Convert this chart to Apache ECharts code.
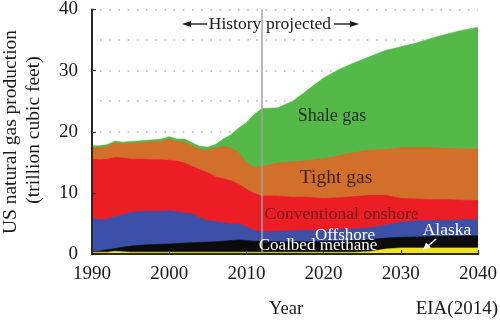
<!DOCTYPE html>
<html>
<head>
<meta charset="utf-8">
<script src="https://cdn.jsdelivr.net/npm/echarts@6/dist/echarts.min.js"></script>
<style>
  html, body { margin: 0; padding: 0; background: #fff; }
  #chart { width: 500px; height: 321px; }
</style>
</head>
<body>
<div id="chart"></div>
<script>
// US natural gas production by source, trillion cubic feet (history to 2012, projection after)
const years = [1990, 1991, 1992, 1993, 1994, 1995, 1996, 1997, 1998, 1999, 2000, 2001,
  2002, 2003, 2004, 2005, 2006, 2007, 2008, 2009, 2010, 2011, 2012,
  2014, 2016, 2018, 2020, 2022, 2024, 2026, 2028, 2030, 2032, 2034, 2036, 2038, 2040];

const alaska = [0.3, 0.3, 0.3, 0.45, 0.35, 0.3, 0.3, 0.3, 0.3, 0.3, 0.3, 0.3,
  0.3, 0.3, 0.3, 0.3, 0.3, 0.3, 0.3, 0.3, 0.3, 0.3, 0.3,
  0.3, 0.3, 0.3, 0.3, 0.3, 0.3, 0.4, 0.8, 1.0, 1.0, 1.0, 1.0, 1.0, 1.0];

const coalbedMethane = [0.1, 0.2, 0.4, 0.45, 0.75, 1.0, 1.1, 1.2, 1.25, 1.3, 1.35, 1.4,
  1.5, 1.55, 1.6, 1.65, 1.7, 1.8, 1.9, 2.0, 1.9, 1.8, 1.8,
  1.7, 1.7, 1.7, 1.8, 1.8, 1.9, 1.95, 1.8, 1.75, 1.8, 1.85, 1.9, 1.95, 2.0];

const offshore = [5.5, 5.1, 5.0, 5.2, 5.3, 5.5, 5.5, 5.5, 5.45, 5.4, 5.45, 5.2,
  4.9, 4.75, 4.0, 3.55, 3.3, 3.0, 2.7, 2.6, 2.3, 1.8, 1.5,
  1.7, 1.8, 1.9, 1.8, 1.9, 1.9, 1.95, 2.1, 2.45, 2.6, 2.65, 2.6, 2.65, 2.6];

const conventionalOnshore = [9.6, 9.8, 9.8, 9.7, 9.3, 8.7, 8.6, 8.5, 8.4, 8.4, 8.25, 8.3,
  8.2, 7.7, 7.9, 7.8, 7.3, 7.2, 7.1, 6.5, 6.1, 6.0, 5.9,
  5.8, 5.5, 5.4, 5.2, 5.2, 5.3, 5.3, 4.9, 3.9, 3.6, 3.4, 3.4, 3.2, 3.15];

const tightGas = [1.9, 2.0, 2.1, 2.4, 2.3, 2.6, 2.7, 2.8, 3.0, 3.0, 3.45, 3.2,
  3.4, 3.4, 3.3, 3.7, 4.7, 5.3, 5.4, 5.2, 4.4, 4.3, 4.8,
  5.4, 5.8, 6.0, 6.5, 6.9, 7.2, 7.4, 7.5, 8.3, 8.4, 8.5, 8.4, 8.4, 8.45];

const shaleGas = [0.3, 0.3, 0.3, 0.3, 0.3, 0.3, 0.3, 0.3, 0.3, 0.4, 0.4, 0.4,
  0.5, 0.5, 0.5, 0.5, 0.6, 1.2, 2.1, 4.0, 6.5, 8.6, 9.5,
  9.0, 9.9, 11.6, 13.2, 14.1, 14.7, 15.3, 16.2, 16.5, 17.1, 17.9, 18.7, 19.4, 19.9];

const lastHistoryYear = 2012;
const xTicks = { min: 1990, max: 2040, step: 10 };
const yTicks = { min: 0, max: 40, step: 10, gridStep: 5 };

const SERIF = "'Liberation Serif', 'Times New Roman', serif";

// Sources from the bottom of the pile to the top
const sources = [
  { name: 'Alaska', values: alaska, color: '#f2e41c' },
  { name: 'Coalbed methane', values: coalbedMethane, color: '#0b0b0b' },
  { name: 'Offshore', values: offshore, color: '#3d50a8' },
  { name: 'Conventional onshore', values: conventionalOnshore, color: '#ec1d25' },
  { name: 'Tight gas', values: tightGas, color: '#d26f2b' },
  { name: 'Shale gas', values: shaleGas, color: '#55b94a' }
];

// Running totals: each band is filled from its upper edge down to zero,
// and the bands are painted from the top of the pile downward.
const running = years.map(() => 0);
const bandSeries = sources.map(src => {
  const upper = src.values.map((v, i) => (running[i] = +(running[i] + v).toFixed(3)));
  return {
    name: src.name,
    type: 'line',
    data: years.map((y, i) => [y, upper[i]]),
    showSymbol: false,
    symbol: 'none',
    lineStyle: { width: 0.6, color: src.color },
    areaStyle: { color: src.color, opacity: 1, origin: 'start' },
    itemStyle: { color: src.color },
    emphasis: { disabled: true },
    silent: true
  };
}).reverse();

// grey divider between history and projection, above every band
bandSeries[bandSeries.length - 1].markLine = {
  silent: true, symbol: ['none', 'none'],
  label: { show: false },
  lineStyle: { color: '#a2a2a2', width: 1.5, type: 'solid' },
  data: [{ xAxis: lastHistoryYear }]
};

function label(text, x, y, size, fill, align) {
  return {
    type: 'text', x: x, y: y, z: 100, silent: true,
    style: {
      text: text, font: size + 'px ' + SERIF, fill: fill,
      align: align || 'center', textAlign: align || 'center',
      verticalAlign: 'middle', textVerticalAlign: 'middle'
    }
  };
}

function vlabel(text, x, y, size) {
  const t = label(text, x, y, size, '#1a1a1a');
  t.rotation = Math.PI / 2;
  return t;
}

const chart = echarts.init(document.getElementById('chart'), null, { renderer: 'canvas' });

chart.setOption({
  animation: false,
  backgroundColor: '#ffffff',
  grid: { left: 92, right: 21, top: 9, bottom: 67, containLabel: false },
  xAxis: {
    type: 'value', min: xTicks.min, max: xTicks.max, interval: xTicks.step, z: 5,
    axisLine: { show: true, lineStyle: { color: '#2a2a2a', width: 2 } },
    axisTick: { show: true, inside: true, length: 4, lineStyle: { color: '#2a2a2a', width: 1.2 } },
    axisLabel: { color: '#1a1a1a', fontFamily: SERIF, fontSize: 19, margin: 11, formatter: v => String(v) },
    splitLine: { show: false }
  },
  yAxis: [
    {
      type: 'value', min: yTicks.min, max: yTicks.max, interval: yTicks.step, z: 5,
      axisLine: { show: true, lineStyle: { color: '#2a2a2a', width: 2 } },
      axisTick: { show: true, inside: true, length: 4, lineStyle: { color: '#2a2a2a', width: 1.2 } },
      axisLabel: { color: '#1a1a1a', fontFamily: SERIF, fontSize: 19, margin: 14 },
      splitLine: { show: false }
    },
    {
      type: 'value', min: yTicks.min, max: yTicks.max, interval: yTicks.gridStep,
      axisLine: { show: false }, axisTick: { show: false }, axisLabel: { show: false },
      splitLine: { show: true, lineStyle: { color: '#b8b8b8', width: 1.6, type: [1.6, 7.6], dashOffset: -8 } }
    }
  ],
  series: bandSeries,
  graphic: [
    // y axis title (two lines, rotated)
    vlabel('US natural gas production', 11, 132, 19.5),
    vlabel('(trillion cubic feet)', 34, 130, 19.5),
    // x axis title and source
    label('Year', 286, 309, 18.5, '#1a1a1a'),
    label('EIA(2014)', 498, 309, 19, '#1a1a1a', 'right'),
    // history / projection divider caption
    label('History', 235, 24, 17.5, '#1a1a1a'),
    label('projected', 298.5, 24, 17.5, '#1a1a1a'),
    { type: 'line', z: 100, silent: true, shape: { x1: 189, y1: 24, x2: 207, y2: 24 }, style: { stroke: '#1a1a1a', lineWidth: 1.4 } },
    { type: 'polygon', z: 100, silent: true, shape: { points: [[182, 24], [191, 21], [191, 27]] }, style: { fill: '#1a1a1a' } },
    { type: 'line', z: 100, silent: true, shape: { x1: 334, y1: 24, x2: 352, y2: 24 }, style: { stroke: '#1a1a1a', lineWidth: 1.4 } },
    { type: 'polygon', z: 100, silent: true, shape: { points: [[359, 24], [350, 21], [350, 27]] }, style: { fill: '#1a1a1a' } },
    // layer captions
    label('Shale gas', 332, 116, 18, '#1e2a1c'),
    label('Tight gas', 336, 178, 19.5, '#3b1f10'),
    label('Conventional onshore', 341.5, 214, 17.5, '#6e1014'),
    label('Offshore', 345, 236, 17, '#ffffff'),
    label('Coalbed methane', 318, 246, 17, '#ffffff'),
    label('Alaska', 447, 230, 17.5, '#ffffff'),
    { type: 'line', z: 100, silent: true, shape: { x1: 436, y1: 239, x2: 428, y2: 246 }, style: { stroke: '#ffffff', lineWidth: 1.5 } },
    { type: 'polygon', z: 100, silent: true, shape: { points: [[423, 250], [426, 242.5], [431, 247.5]] }, style: { fill: '#ffffff' } }
  ]
});
</script>
</body>
</html>
